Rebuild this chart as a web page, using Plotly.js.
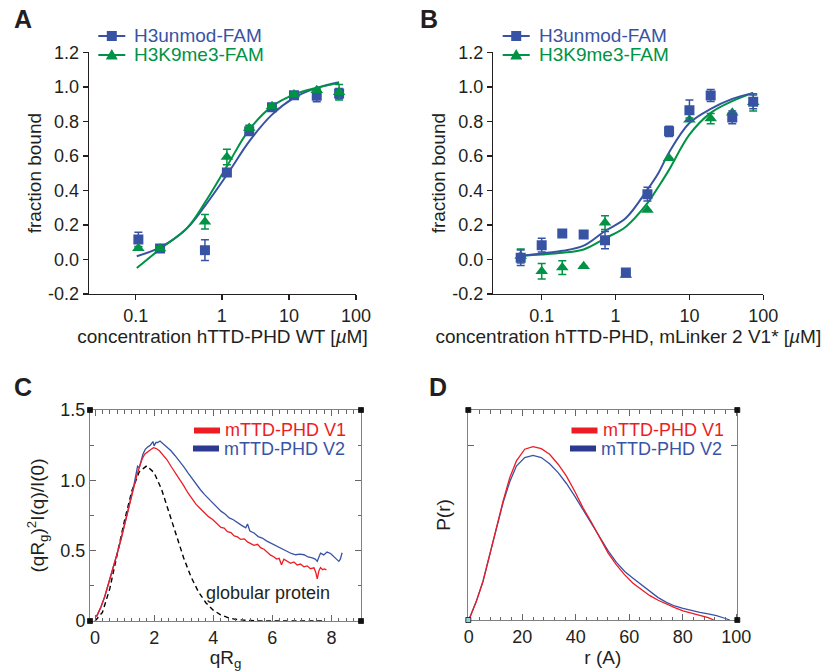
<!DOCTYPE html>
<html><head><meta charset="utf-8">
<script src="https://cdn.plot.ly/plotly-3.0.1.min.js"></script>
<style>html,body{margin:0;padding:0;background:#fff}#chart{width:835px;height:671px}</style>
</head><body><div id="chart"></div>
<script>
// ---------- Panel A : hTTD-PHD WT ----------
const concA      = [0.057, 0.12, 0.56, 1.19, 2.56, 5.6, 11.9, 26, 56];
const unmodA     = [0.116, 0.064, 0.054, 0.504, 0.742, 0.882, 0.951, 0.949, 0.961];
const unmodAErr  = [0.042, 0.01, 0.06, 0.01, 0.02, 0.01, 0.01, 0.036, 0.03];
const k9A        = [0.065, 0.064, 0.219, 0.593, 0.762, 0.888, 0.955, 0.98, 0.968];
const k9AErr     = [0.01, 0.01, 0.042, 0.045, 0.015, 0.01, 0.01, 0.01, 0.045];
const fitConcA   = [0.054, 0.12, 0.30, 0.56, 1.19, 2.56, 5.6, 11.9, 26, 56];
const fitUnmodA  = [0.019, 0.07, 0.18, 0.31, 0.49, 0.684, 0.839, 0.936, 0.994, 1.027];
const fitK9A     = [-0.05, 0.06, 0.18, 0.33, 0.54, 0.752, 0.887, 0.955, 0.994, 1.023];
const tickPosA   = [0.052, 1, 10, 100];
const tickTextA  = ['0.1', '1', '10', '100'];

// ---------- Panel B : hTTD-PHD mLinker 2 V1* ----------
const concB      = [0.052, 0.1, 0.19, 0.37, 0.72, 1.38, 2.7, 5.3, 10, 19.4, 38, 73];
const unmodB     = [0.01, 0.083, 0.15, 0.145, 0.112, -0.076, 0.378, 0.742, 0.864, 0.95, 0.823, 0.913];
const unmodBErr  = [0.045, 0.04, 0.02, 0.015, 0.05, 0.015, 0.04, 0.03, 0.06, 0.035, 0.037, 0.04];
const k9B        = [0.02, -0.068, -0.047, -0.039, 0.213, -0.09, 0.287, 0.587, 0.81, 0.816, 0.85, 0.91];
const k9BErr     = [0.04, 0.045, 0.04, 0.0, 0.04, 0.01, 0.0, 0.0, 0.01, 0.03, 0.0, 0.05];
const fitConcB   = [0.05, 0.1, 0.19, 0.37, 0.72, 1.38, 2.7, 3.79, 5.3, 10, 19.4, 38, 73];
const fitUnmodB  = [0.021, 0.035, 0.05, 0.08, 0.165, 0.24, 0.405, 0.5, 0.62, 0.79, 0.872, 0.93, 0.965];
const fitK9B     = [0.021, 0.029, 0.039, 0.058, 0.122, 0.19, 0.326, 0.42, 0.519, 0.723, 0.849, 0.917, 0.965];
const tickPosB   = [0.1, 1, 10, 100];
const tickTextB  = ['0.1', '1', '10', '100'];
const fracTicks  = [-0.2, 0, 0.2, 0.4, 0.6, 0.8, 1.0, 1.2];
const fracLabels = ['-0.2', '0.0', '0.2', '0.4', '0.6', '0.8', '1.0', '1.2'];

// ---------- Panel C : dimensionless Kratky ----------
const qV1 = [0.05,0.2,0.33,0.47,0.61,0.75,0.89,1.03,1.17,1.25,1.34,1.42,1.51,1.59,1.68,1.78,1.9,1.98,2.07,2.18,
  2.29,2.43,2.57,2.71,2.86,3.0,3.14,3.28,3.42,3.56,3.7,3.84,3.98,4.12,4.26,4.37,4.48,4.6,4.71,4.82,
  4.93,5.05,5.16,5.27,5.38,5.5,5.61,5.72,5.83,5.94,6.06,6.14,6.23,6.31,6.39,6.5,6.62,6.73,6.84,6.95,
  7.07,7.18,7.29,7.41,7.47,7.52,7.58,7.63,7.7,7.76,7.83];
const kratkyV1 = [0.031,0.1,0.174,0.27,0.376,0.48,0.59,0.71,0.829,0.9,0.971,1.04,1.1,1.15,1.186,1.205,1.221,1.232,1.226,1.21,
  1.186,1.148,1.1,1.058,1.007,0.962,0.912,0.872,0.829,0.8,0.769,0.742,0.721,0.69,0.665,0.66,0.635,0.628,0.605,0.598,
  0.58,0.584,0.562,0.55,0.538,0.545,0.52,0.51,0.49,0.468,0.455,0.44,0.445,0.4,0.44,0.425,0.41,0.42,0.398,0.405,
  0.385,0.392,0.372,0.378,0.345,0.3,0.36,0.38,0.365,0.37,0.363];
const qV2 = [0.05,0.2,0.33,0.47,0.61,0.75,0.89,1.03,1.17,1.3,1.44,1.5,1.62,1.7,1.79,1.87,1.96,2.0,2.06,2.12,
  2.2,2.29,2.43,2.57,2.71,2.86,3.0,3.14,3.28,3.42,3.56,3.7,3.84,3.98,4.12,4.26,4.4,4.54,4.68,4.82,
  4.96,5.1,5.16,5.24,5.38,5.52,5.66,5.8,5.94,6.08,6.22,6.36,6.5,6.64,6.79,6.93,7.07,7.21,7.35,7.45,
  7.52,7.63,7.74,7.85,7.97,8.08,8.17,8.25,8.3,8.36];
const kratkyV2 = [0.031,0.1,0.174,0.27,0.376,0.48,0.59,0.71,0.83,0.95,1.1,1.09,1.186,1.22,1.238,1.25,1.276,1.245,1.27,1.269,
  1.28,1.262,1.24,1.21,1.175,1.138,1.098,1.055,1.012,0.971,0.935,0.9,0.87,0.84,0.81,0.781,0.76,0.733,0.72,0.698,
  0.68,0.662,0.69,0.64,0.626,0.6,0.59,0.57,0.555,0.545,0.531,0.51,0.495,0.48,0.471,0.475,0.471,0.455,0.448,0.44,
  0.425,0.483,0.47,0.49,0.48,0.46,0.44,0.424,0.44,0.485];
const qGlob = [0,0.25,0.5,0.75,1,1.25,1.5,1.75,2,2.25,2.5,2.75,3,3.25,3.5,3.75,4,4.25,4.5,4.75,5,5.5,6,6.5,7,7.7];
const kratkyGlob = [0,0.061,0.23,0.466,0.717,0.928,1.062,1.103,1.054,0.937,0.779,0.608,0.448,0.313,0.207,0.13,0.077,0.044,0.024,0.012,0.006,0.001,0,0,0,0];
const kratkyTickVals = [0, 0.5, 1.0, 1.5];
const kratkyTickText = ['0', '0.5', '1.0', '1.5'];

// ---------- Panel D : pair distance distribution ----------
const rV1  = [0,2.8,5.3,7.8,10.3,12.8,15.3,17.8,20.9,24.0,27.1,30.2,33.4,36.5,39.6,42.7,45.8,49.0,52.1,55.2,
  58.3,61.4,64.6,67.7,70.8,73.9,77.0,80.1,83.3,86.4,89.5,91.6];
const prV1 = [0,0.105,0.219,0.373,0.526,0.679,0.813,0.909,0.976,0.991,0.979,0.947,0.89,0.822,0.736,0.641,0.56,0.47,0.382,0.315,
  0.258,0.21,0.172,0.139,0.113,0.09,0.071,0.052,0.04,0.029,0.013,0];
const rV2  = [0,2.8,5.3,7.8,10.3,12.8,15.3,17.8,20.9,24.0,27.1,30.2,33.4,36.5,39.6,42.7,45.8,49.0,52.1,55.2,
  58.3,61.4,64.6,67.7,70.8,73.9,77.0,80.1,83.3,86.4,89.5,92.6,95.7,97.6];
const prV2 = [0,0.108,0.223,0.377,0.53,0.67,0.79,0.88,0.928,0.941,0.928,0.893,0.842,0.78,0.708,0.631,0.55,0.473,0.395,0.329,
  0.277,0.239,0.2,0.162,0.128,0.101,0.08,0.067,0.054,0.044,0.035,0.025,0.01,0];

// ---------- styling ----------
const W = 835, H = 671;
const px = v => v / W;
const py = v => 1 - v / H;
const BLUE = '#3953a4', GREEN = '#009245', RED = '#ed1c24', NAVY = '#2b3990', INK = '#231f20';
const FONT = '"Liberation Sans", Arial, Helvetica, sans-serif';

function pts(x, y, err, color, symbol, size, xa, ya) {
  return {x, y, xaxis: xa, yaxis: ya, type: 'scatter', mode: 'markers',
    marker: {color, symbol, size, line: {width: 0}},
    error_y: {type: 'data', array: err, visible: true, color, thickness: 1.5, width: 4},
    hoverinfo: 'x+y'};
}
function fit(x, y, color, xa, ya) {
  return {x, y, xaxis: xa, yaxis: ya, type: 'scatter', mode: 'lines',
    line: {color, width: 2, shape: 'spline', smoothing: 1}, hoverinfo: 'skip'};
}
function curve(x, y, color, xa, ya, dash) {
  return {x, y, xaxis: xa, yaxis: ya, type: 'scatter', mode: 'lines',
    line: {color, width: dash ? 1.4 : 1.3, dash: dash || 'solid'}, hoverinfo: 'skip'};
}

const traces = [
  fit(fitConcA, fitUnmodA, BLUE, 'x', 'y'),
  fit(fitConcA, fitK9A, GREEN, 'x', 'y'),
  pts(concA, unmodA, unmodAErr, BLUE, 'square', 10, 'x', 'y'),
  pts(concA, k9A, k9AErr, GREEN, 'triangle-up', 11, 'x', 'y'),
  fit(fitConcB, fitK9B, GREEN, 'x2', 'y2'),
  fit(fitConcB, fitUnmodB, BLUE, 'x2', 'y2'),
  pts(concB, k9B, k9BErr, GREEN, 'triangle-up', 11, 'x2', 'y2'),
  pts(concB, unmodB, unmodBErr, BLUE, 'square', 10, 'x2', 'y2'),
  curve(qGlob, kratkyGlob, '#000', 'x3', 'y3', '5px,3.5px'),
  curve(qV2, kratkyV2, BLUE, 'x3', 'y3'),
  curve(qV1, kratkyV1, RED, 'x3', 'y3'),
  curve(rV2, prV2, BLUE, 'x4', 'y4'),
  curve(rV1, prV1, RED, 'x4', 'y4')
];

const TITLE_SIZE = 19, TICK_SIZE = 18, LEG_SIZE = 19;
const prismAxis = {ticks: 'outside', ticklen: 5, tickwidth: 1.4, tickcolor: INK, showline: true, linewidth: 1.4,
  linecolor: INK, showgrid: false, zeroline: false, tickfont: {size: TICK_SIZE, color: INK}};
const frameAxis = {ticks: 'inside', ticklen: 6, tickwidth: 1, tickcolor: '#666', showline: true, mirror: 'ticks',
  linewidth: 1, linecolor: '#808080', showgrid: false, zeroline: false, tickfont: {size: TICK_SIZE, color: INK}};

const layout = {
  width: W, height: H, margin: {l: 0, r: 0, t: 0, b: 0}, showlegend: false,
  paper_bgcolor: '#fff', plot_bgcolor: 'rgba(0,0,0,0)',
  font: {family: FONT, size: 18, color: INK},
  xaxis: Object.assign({}, prismAxis, {domain: [px(89), px(356)], anchor: 'y', type: 'log', range: [-1.98, 2.0],
    tickmode: 'array', tickvals: tickPosA, ticktext: tickTextA,
    title: {text: 'concentration hTTD-PHD WT [<i>µ</i>M]', standoff: 2, font: {size: TITLE_SIZE}}}),
  yaxis: Object.assign({}, prismAxis, {domain: [py(294), py(52.3)], anchor: 'x', range: [-0.2, 1.2],
    tickmode: 'array', tickvals: fracTicks, ticktext: fracLabels,
    title: {text: 'fraction bound', standoff: 1, font: {size: TITLE_SIZE}}}),
  xaxis2: Object.assign({}, prismAxis, {domain: [px(493.3), px(763.3)], anchor: 'y2', type: 'log', range: [-1.655, 2.0],
    tickmode: 'array', tickvals: tickPosB, ticktext: tickTextB,
    title: {text: 'concentration hTTD-PHD, mLinker 2 V1* [<i>µ</i>M]', standoff: 2, font: {size: TITLE_SIZE}}}),
  yaxis2: Object.assign({}, prismAxis, {domain: [py(294), py(52.3)], anchor: 'x2', range: [-0.2, 1.2],
    tickmode: 'array', tickvals: fracTicks, ticktext: fracLabels,
    title: {text: 'fraction bound', standoff: 1, font: {size: TITLE_SIZE}}}),
  xaxis3: Object.assign({}, frameAxis, {domain: [px(90), px(361)], anchor: 'y3', range: [-0.17, 9.0],
    tickmode: 'linear', tick0: 0, dtick: 2,
    minor: {tickmode: 'linear', tick0: 0, dtick: 0.25, ticks: 'inside', ticklen: 3.5, tickcolor: '#666'},
    title: {text: 'qR<sub>g</sub>', standoff: 4, font: {size: TITLE_SIZE}}}),
  yaxis3: Object.assign({}, frameAxis, {domain: [py(621), py(410)], anchor: 'x3', range: [0, 1.5],
    tickmode: 'array', tickvals: kratkyTickVals, ticktext: kratkyTickText,
    minor: {tickmode: 'linear', tick0: 0, dtick: 0.25, ticks: 'inside', ticklen: 3.5, tickcolor: '#666'},
    title: {text: '(qR<sub>g</sub>)<sup>2</sup>I(q)/I(0)', standoff: 10, font: {size: TITLE_SIZE}}}),
  xaxis4: Object.assign({}, frameAxis, {domain: [px(468.3), px(737.3)], anchor: 'y4', range: [-0.2, 100.4],
    tickmode: 'linear', tick0: 0, dtick: 20,
    minor: {tickmode: 'linear', tick0: 0, dtick: 4, ticks: 'inside', ticklen: 3.5, tickcolor: '#666'},
    title: {text: 'r (A)', standoff: 2, font: {size: TITLE_SIZE}}}),
  yaxis4: Object.assign({}, frameAxis, {domain: [py(620), py(410)], anchor: 'x4', range: [0, 1.2],
    tickmode: 'array', tickvals: [0, 1], showticklabels: false,
    title: {text: 'P(r)', standoff: 11, font: {size: TITLE_SIZE}}}),
  annotations: [],
  shapes: []
};

const ann = layout.annotations, shp = layout.shapes;
function label(text, x, y, opts) {
  ann.push(Object.assign({text, x: px(x), y: py(y), xref: 'paper', yref: 'paper', showarrow: false,
    xanchor: 'left', yanchor: 'middle', font: {family: FONT, size: 18, color: INK}}, opts || {}));
}
// panel letters
[['A', 23, 19], ['B', 428.5, 19], ['C', 23, 387], ['D', 437.5, 387]].forEach(([t, x, y]) =>
  label(t, x, y, {xanchor: 'center', font: {family: FONT, size: 25, color: INK, weight: 'bold'}}));

// legends of A and B (line + symbol swatch, coloured text)
function markerLegend(x0, y, color, symbol, text) {
  shp.push({type: 'line', xref: 'paper', yref: 'paper', x0: px(x0), x1: px(x0 + 27), y0: py(y), y1: py(y),
    line: {color, width: 2}});
  const cx = x0 + 13.5;
  if (symbol === 'square') {
    shp.push({type: 'rect', xref: 'paper', yref: 'paper', x0: px(cx - 5), x1: px(cx + 5), y0: py(y + 5), y1: py(y - 5),
      fillcolor: color, line: {width: 0}});
  } else {
    shp.push({type: 'path', xref: 'paper', yref: 'paper',
      path: `M ${px(cx - 6)},${py(y + 4.5)} L ${px(cx)},${py(y - 6)} L ${px(cx + 6)},${py(y + 4.5)} Z`,
      fillcolor: color, line: {width: 0}});
  }
  label(text, x0 + 34, y, {font: {family: FONT, size: LEG_SIZE, color}});
}
markerLegend(98.3, 36, BLUE, 'square', 'H3unmod-FAM');
markerLegend(98.3, 55, GREEN, 'triangle', 'H3K9me3-FAM');
markerLegend(502.7, 36, BLUE, 'square', 'H3unmod-FAM');
markerLegend(502.7, 55, GREEN, 'triangle', 'H3K9me3-FAM');

// legends of C and D (thick bar swatch)
function barLegend(x0, y, swatch, textColor, text) {
  shp.push({type: 'line', xref: 'paper', yref: 'paper', x0: px(x0), x1: px(x0 + 26), y0: py(y), y1: py(y),
    line: {color: swatch, width: 6}});
  label(text, x0 + 29, y, {font: {family: FONT, size: 18, color: textColor}});
}
barLegend(194, 430.5, RED, RED, 'mTTD-PHD V1');
barLegend(193, 448.5, NAVY, BLUE, 'mTTD-PHD V2');
barLegend(571.5, 430.5, RED, RED, 'mTTD-PHD V1');
barLegend(570, 448.5, NAVY, BLUE, 'mTTD-PHD V2');

label('globular protein', 267.5, 592.7, {xanchor: 'center'});

// frame corner squares of C and D
function corners(l, r, t, b, blColor) {
  [[l, t, '#111'], [r, t, '#111'], [l, b, blColor || '#111'], [r, b, '#111']].forEach(([x, y, c]) =>
    shp.push({type: 'rect', xref: 'paper', yref: 'paper', x0: px(x - 2.5), x1: px(x + 2.5), y0: py(y + 2.5), y1: py(y - 2.5),
      fillcolor: c, line: {color: '#111', width: 0.8}}));
}
corners(90, 361, 410, 621);
corners(468.3, 737.3, 410, 620, '#8fd3df');

Plotly.newPlot('chart', traces, layout, {displayModeBar: false, staticPlot: true});
</script>
</body></html>
